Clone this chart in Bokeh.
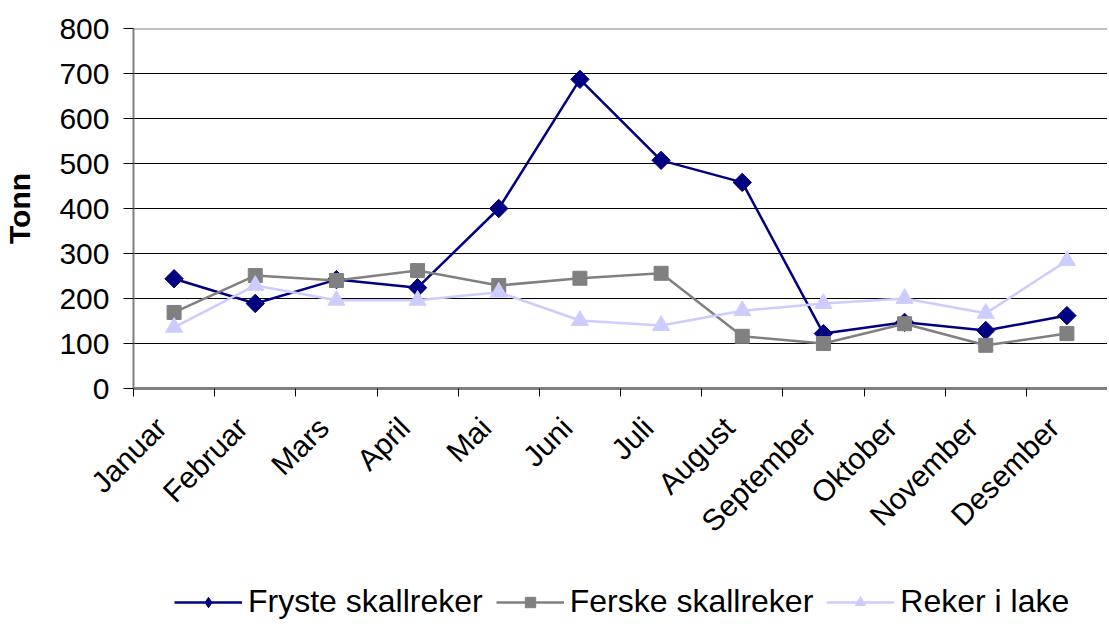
import math
from bokeh.plotting import figure
from bokeh.layouts import column
from bokeh.models import Range1d, FixedTicker, Legend, LegendItem, Span
from bokeh.embed import file_html
from bokeh.resources import INLINE

months = ["Januar", "Februar", "Mars", "April", "Mai", "Juni", "Juli",
          "August", "September", "Oktober", "November", "Desember"]
fryste = [244, 189, 242, 224, 400, 687, 507, 458, 122, 147, 129, 162]
ferske = [169, 251, 240, 262, 229, 245, 256, 116, 100, 144, 96, 122]
lake = [136, 229, 196, 196, 214, 151, 140, 173, 189, 200, 167, 284]
y_ticks = [0, 100, 200, 300, 400, 500, 600, 700, 800]

FONT = "Liberation Sans"
FS = "30px"
x = [i + 0.5 for i in range(len(months))]
label_pos = [i + 0.34 for i in range(len(months))]

p = figure(frame_width=974, frame_height=360,
           x_range=Range1d(0, len(months)), y_range=Range1d(0, 800),
           output_backend="svg", toolbar_location=None,
           min_border_left=126, min_border_top=28, min_border_right=0,
           min_border_bottom=0, background_fill_color="white",
           border_fill_color="white")
p.outline_line_color = None

p.xaxis.ticker = FixedTicker(ticks=label_pos, minor_ticks=list(range(len(months) + 1)))
p.xaxis.major_label_overrides = {xx: m for xx, m in zip(label_pos, months)}
p.xaxis.major_label_orientation = math.pi / 4
p.xaxis.major_tick_out = 0
p.xaxis.major_tick_in = 0
p.xaxis.minor_tick_out = 8
p.xaxis.minor_tick_in = 0
p.xaxis.minor_tick_line_color = "black"
p.xaxis.axis_line_color = "#808080"
p.xaxis.axis_line_width = 3
p.xaxis.major_label_text_font = FONT
p.xaxis.major_label_text_font_size = FS
p.xaxis.major_label_text_color = "black"
p.xaxis.major_label_standoff = 26

p.yaxis.ticker = FixedTicker(ticks=y_ticks)
p.yaxis.minor_tick_line_color = None
p.yaxis.major_tick_out = 10
p.yaxis.major_tick_in = 0
p.yaxis.major_tick_line_color = "black"
p.yaxis.axis_line_color = "#808080"
p.yaxis.axis_line_width = 2
p.yaxis.major_label_text_font = FONT
p.yaxis.major_label_text_font_size = FS
p.yaxis.major_label_text_color = "black"
p.yaxis.major_label_standoff = 14
p.yaxis.axis_label = "Tonn"
p.yaxis.axis_label_text_font = FONT
p.yaxis.axis_label_text_font_size = FS
p.yaxis.axis_label_text_font_style = "bold"
p.yaxis.axis_label_text_color = "black"
p.yaxis.axis_label_standoff = 20

p.xgrid.grid_line_color = None
p.ygrid.grid_line_color = "black"
p.ygrid.grid_line_width = 1
p.add_layout(Span(location=800, dimension="width", line_color="#808080", line_width=2))

p.line(x, fryste, line_color="#000080", line_width=2.5)
p.scatter(x, fryste, marker="square", angle=math.pi / 4, size=13,
          fill_color="#000080", line_color="#000080")
p.line(x, ferske, line_color="#808080", line_width=2.5)
p.scatter(x, ferske, marker="square", size=14, fill_color="#808080", line_color="#808080")
p.line(x, lake, line_color="#CCCCFF", line_width=2.5)
p.scatter(x, lake, marker="triangle", size=17, fill_color="#CCCCFF", line_color="#CCCCFF")

# legend strip (series drawn out of its visible range, only the legend shows)
lf = figure(width=1100, height=68, x_range=Range1d(0, 1), y_range=Range1d(-2, -1),
            output_backend="svg", toolbar_location=None, min_border=0,
            x_axis_location=None, y_axis_location=None,
            background_fill_color="white", border_fill_color="white")
lf.grid.visible = False
lf.outline_line_color = None
ll1 = lf.line(x, fryste, line_color="#000080", line_width=2.5)
lm1 = lf.scatter(x, fryste, marker="diamond", size=15,
                 fill_color="#000080", line_color="#000080")
ll2 = lf.line(x, ferske, line_color="#808080", line_width=2.5)
lm2 = lf.scatter(x, ferske, marker="square", size=9, fill_color="#808080", line_color="#808080")
ll3 = lf.line(x, lake, line_color="#CCCCFF", line_width=2.5)
lm3 = lf.scatter(x, lake, marker="triangle", size=11, fill_color="#CCCCFF", line_color="#CCCCFF")

legend = Legend(items=[
    LegendItem(label="Fryste skallreker", renderers=[ll1, lm1]),
    LegendItem(label="Ferske skallreker", renderers=[ll2, lm2]),
    LegendItem(label="Reker i lake", renderers=[ll3, lm3]),
], orientation="horizontal", location=(41, 0))
legend.label_text_font = FONT
legend.label_text_font_size = "32px"
legend.label_text_color = "black"
legend.glyph_width = 68
legend.glyph_height = 26
legend.label_standoff = 6
legend.spacing = 13
legend.padding = 0
legend.margin = 0
legend.border_line_color = None
legend.background_fill_alpha = 0
lf.add_layout(legend)

open("out.html", "w").write(file_html(column(p, lf, spacing=0), INLINE))
